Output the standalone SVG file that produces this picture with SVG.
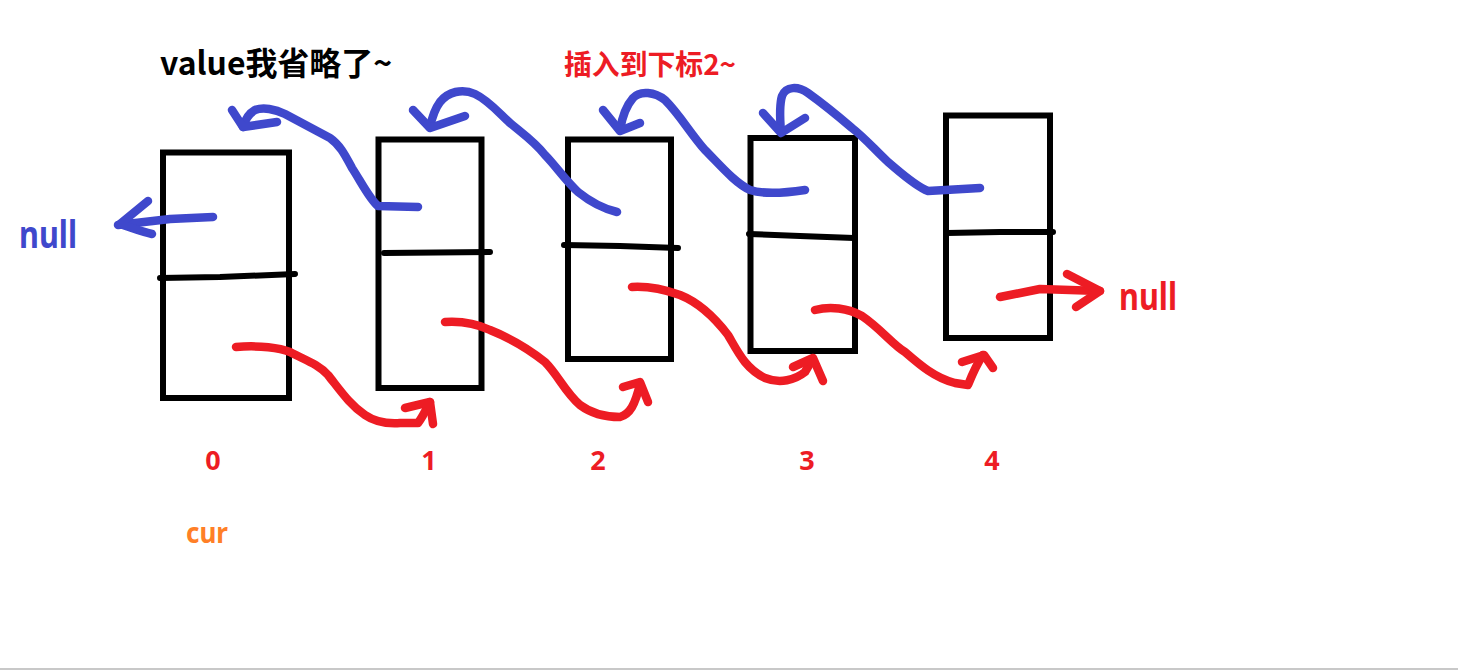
<svg xmlns="http://www.w3.org/2000/svg" width="1458" height="670" viewBox="0 0 1458 670">
<style>
.box{fill:none;stroke:#000;stroke-width:6}
.div{fill:none;stroke:#000;stroke-width:6;stroke-linecap:round}
.b{fill:none;stroke:#3F48CC;stroke-width:8.5;stroke-linecap:round;stroke-linejoin:round}
.r{fill:none;stroke:#ED1C24;stroke-width:8.5;stroke-linecap:round;stroke-linejoin:round}
.t{font-family:"Noto Sans","Noto Sans CJK SC",sans-serif;font-weight:bold}
.cjk{font-family:"Noto Sans CJK SC","Noto Sans",sans-serif;font-weight:bold}
.idx{fill:#ED1C24;font-size:27px;text-anchor:middle}
</style>
<rect width="1458" height="670" fill="#fff"/>
<rect x="0" y="668" width="1458" height="2" fill="#c8c8c8"/>
<text class="cjk" x="160" y="75" font-size="32" fill="#000" textLength="232" lengthAdjust="spacingAndGlyphs">value我省略了~</text>
<text class="cjk" x="564" y="75" font-size="28" fill="#ED1C24" textLength="172" lengthAdjust="spacingAndGlyphs">插入到下标2~</text>
<g id="node0"><rect class="box" x="163" y="152.5" width="126" height="245.5"/><path class="div" d="M160,278 L220,277 L295,274"/><text class="t idx" x="213" y="470">0</text></g>
<g id="node1"><rect class="box" x="378.5" y="139.5" width="103" height="248.5"/><path class="div" d="M384,253 L490,252"/><text class="t idx" x="429" y="470">1</text></g>
<g id="node2"><rect class="box" x="568" y="139.5" width="103" height="219.5"/><path class="div" d="M564,245 L620,246 L678,248"/><text class="t idx" x="598" y="470">2</text></g>
<g id="node3"><rect class="box" x="750.5" y="138" width="104.5" height="213"/><path class="div" d="M749,234 L800,236 L854,238"/><text class="t idx" x="807" y="470">3</text></g>
<g id="node4"><rect class="box" x="946" y="115.5" width="104" height="222.5"/><path class="div" d="M947,233 L1000,232 L1053,232"/></g>
<g id="labels">
<text class="t" x="19" y="248" font-size="37" fill="#3F48CC" textLength="58" lengthAdjust="spacingAndGlyphs">null</text>
<text class="t" x="1119" y="310" font-size="37" fill="#ED1C24" textLength="58" lengthAdjust="spacingAndGlyphs">null</text>
<text class="t" x="186" y="543" font-size="28" fill="#FF7F27" textLength="42" lengthAdjust="spacingAndGlyphs">cur</text>
<text class="t idx" x="992" y="470">4</text>
</g>
<g id="connectors">
<path class="b" d="M213,217 L170,219 L118,225"/>
<path class="b" d="M148,201 L120,224 C132,228 142,232 152,234"/>
<path class="b" d="M418,207 L378,206 C370,200 360,180 352,168 C345,155 340,145 330,138 C315,130 300,122 285,114 C275,109 263,107 255,110 C248,114 245,120 243,127"/>
<path class="b" d="M232,110 L243,127 L277,122"/>
<path class="b" d="M617,212 C600,208 588,200 578,192 C565,180 555,165 545,155 C535,142 522,133 510,123 C498,112 488,100 475,94 C462,88 448,92 440,102 C434,110 432,118 430,127"/>
<path class="b" d="M413,110 L430,128 L465,116"/>
<path class="b" d="M805,190 C785,193 765,195 750,190 C735,183 720,165 705,150 C690,133 680,115 665,100 C655,92 640,90 633,98 C626,106 622,118 620,130"/>
<path class="b" d="M603,110 L620,131 L640,123"/>
<path class="b" d="M980,188 L928,191 C915,186 900,172 888,162 C875,150 865,138 852,128 C838,116 822,103 808,93 C798,86 786,86 782,96 C779,106 780,120 781,132"/>
<path class="b" d="M763,113 L781,133 L805,118"/>
<path class="r" d="M236,347 C260,345 280,348 290,352 C305,360 318,364 328,375 C340,390 350,405 365,415 C375,422 385,424 400,423 L418,423 C422,418 426,410 430,402"/>
<path class="r" d="M405,408 L430,402 L433,424"/>
<path class="r" d="M445,322 C460,321 475,323 490,330 C510,338 530,350 545,362 C558,375 565,392 580,405 C592,414 605,417 620,417 C630,414 635,405 640,384"/>
<path class="r" d="M623,387 L640,382 L648,402"/>
<path class="r" d="M632,287 C648,286 663,289 680,295 C700,303 715,318 728,335 C738,352 745,368 765,378 C780,384 795,380 805,372 L812,360"/>
<path class="r" d="M793,367 L813,358 L823,381"/>
<path class="r" d="M815,310 C830,306 848,308 862,316 C880,328 893,345 905,352 C920,365 935,378 955,383 L968,385 C972,375 976,365 983,355"/>
<path class="r" d="M962,362 L984,355 L993,368"/>
<path class="r" d="M1000,297 L1040,289 L1100,291"/>
<path class="r" d="M1067,274 L1100,291 L1076,307"/>
</g>
</svg>
